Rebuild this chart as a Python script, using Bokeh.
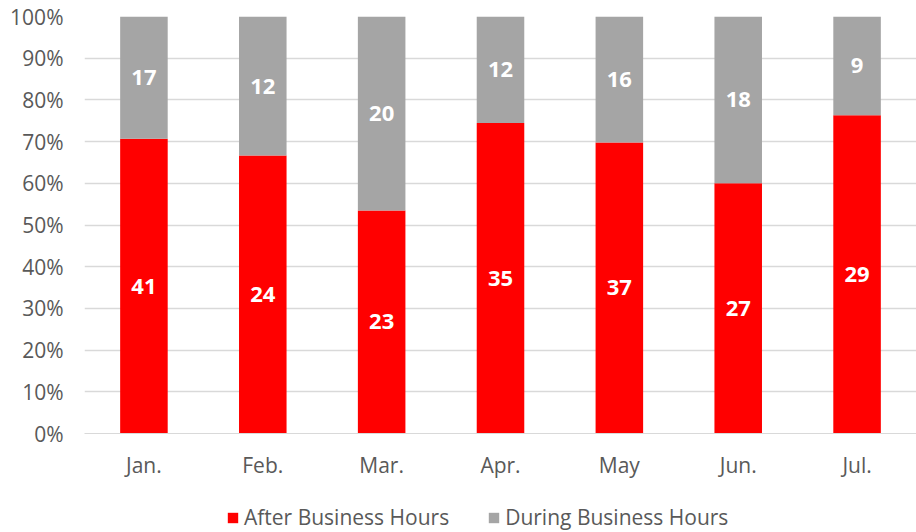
from bokeh.plotting import figure
from bokeh.layouts import column
from bokeh.models import (ColumnDataSource, FactorRange, Range1d, FixedTicker,
                          NumeralTickFormatter, LabelSet, Legend, LegendItem)
from bokeh.core.properties import value
from bokeh.embed import file_html
from bokeh.resources import INLINE

months = ["Jan.", "Feb.", "Mar.", "Apr.", "May", "Jun.", "Jul."]
after_hours = [41, 24, 23, 35, 37, 27, 29]
during_hours = [17, 12, 20, 12, 16, 18, 9]
series_names = ["After Business Hours", "During Business Hours"]
colors = ["#ff0000", "#a5a5a5"]

tot = [a + d for a, d in zip(after_hours, during_hours)]
after_pct = [a / t for a, t in zip(after_hours, tot)]
during_pct = [d / t for d, t in zip(during_hours, tot)]

src = ColumnDataSource(dict(
    m=months, after=after_pct, during=during_pct,
    after_lbl=[str(v) for v in after_hours],
    during_lbl=[str(v) for v in during_hours],
    after_mid=[p / 2 for p in after_pct],
    during_mid=[p + q / 2 for p, q in zip(after_pct, during_pct)],
))

FONT = "Open Sans"
TXT = "#595959"

p = figure(x_range=FactorRange(*months, range_padding=0), y_range=Range1d(0, 1),
           width=916, height=490,
           min_border_left=84, min_border_right=0, min_border_top=16, min_border_bottom=57,
           output_backend="svg", toolbar_location=None)
p.outline_line_color = None
p.background_fill_color = "white"
p.border_fill_color = "white"

r = p.vbar_stack(["after", "during"], x="m", width=0.4, color=colors, line_color=None, source=src)

for ycol, lcol in [("after_mid", "after_lbl"), ("during_mid", "during_lbl")]:
    p.add_layout(LabelSet(x="m", y=ycol, text=lcol, source=src, text_align="center",
                          text_baseline="middle", text_color="white", text_font=value(FONT),
                          text_font_style="bold", text_font_size="22px"))

p.yaxis.ticker = FixedTicker(ticks=[i / 10 for i in range(11)])
p.yaxis.formatter = NumeralTickFormatter(format="0%")
for ax in (p.xaxis, p.yaxis):
    ax.major_tick_line_color = None
    ax.minor_tick_line_color = None
    ax.major_tick_out = 0
    ax.major_tick_in = 0
    ax.minor_tick_out = 0
    ax.major_label_text_font = FONT
    ax.major_label_text_font_size = "21px"
    ax.major_label_text_color = TXT
p.yaxis.axis_line_color = None
p.xaxis.axis_line_color = "#d9d9d9"
p.yaxis.major_label_standoff = 21
p.xaxis.major_label_standoff = 17
p.xgrid.grid_line_color = None
p.ygrid.grid_line_color = "#d9d9d9"
p.ygrid.grid_line_width = 1.3

# legend strip below the chart (same stacked series, drawn out of view so only the legend shows)
p2 = figure(width=916, height=42, x_range=p.x_range, y_range=Range1d(5, 6),
            x_axis_type=None, y_axis_type=None, min_border=0,
            output_backend="svg", toolbar_location=None)
p2.outline_line_color = None
p2.xgrid.grid_line_color = None
p2.ygrid.grid_line_color = None
r2 = p2.vbar_stack(["after", "during"], x="m", width=0.4, color=colors, line_color=None, source=src)
legend = Legend(items=[LegendItem(label=series_names[i], renderers=[r2[i]]) for i in range(2)],
                orientation="horizontal", location=(142, 1),
                label_text_font=FONT, label_text_font_size="21px", label_text_color=TXT,
                glyph_width=13, glyph_height=13, spacing=38, label_standoff=5,
                border_line_color=None, background_fill_alpha=0, padding=0, margin=0)
p2.add_layout(legend, "center")

open("out.html", "w").write(file_html(column(p, p2), INLINE))
